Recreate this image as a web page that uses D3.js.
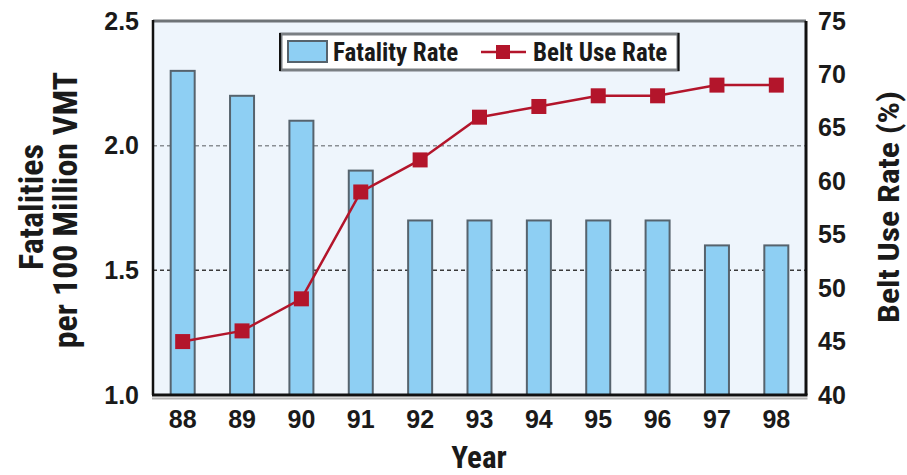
<!DOCTYPE html>
<html>
<head>
<meta charset="utf-8">
<script src="https://cdn.jsdelivr.net/npm/d3@7"></script>
<style>
  html, body { margin: 0; padding: 0; background: #ffffff; }
  svg { display: block; }
  text { font-family: "Liberation Sans Narrow", "Roboto Condensed", "Liberation Sans", Arial, sans-serif; font-weight: bold; fill: #1a1a1a; }
  .num { font-family: "Liberation Sans", Arial, sans-serif; }
</style>
</head>
<body>
<svg id="chart" width="907" height="475"></svg>
<script>
// Fatality rate (per 100 million VMT) and safety belt use rate (%), 1988-1998
const years = ["88", "89", "90", "91", "92", "93", "94", "95", "96", "97", "98"];
const fatalityRate = [2.3, 2.2, 2.1, 1.9, 1.7, 1.7, 1.7, 1.7, 1.7, 1.6, 1.6];
const beltUseRate = [45, 46, 49, 59, 62, 66, 67, 68, 68, 69, 69];
const leftTicks = [1.0, 1.5, 2.0, 2.5];
const rightTicks = [40, 45, 50, 55, 60, 65, 70, 75];
const gridValues = [1.5, 2.0];

const svg = d3.select("#chart");
const plot = { left: 153, right: 806, top: 21, bottom: 395 };

const xc = d3.scaleBand().domain(years).range([plot.left, plot.right]);
const yL = d3.scaleLinear().domain([1.0, 2.5]).range([plot.bottom, plot.top]);
const yR = d3.scaleLinear().domain([40, 75]).range([plot.bottom, plot.top]);
const cx = d => xc(d) + xc.bandwidth() / 2;

// plot background
svg.append("rect")
  .attr("x", plot.left).attr("y", plot.top)
  .attr("width", plot.right - plot.left).attr("height", plot.bottom - plot.top)
  .attr("fill", "#eef5fc");

// dashed reference lines
svg.append("g").selectAll("line").data(gridValues).join("line")
  .attr("x1", plot.left).attr("x2", plot.right)
  .attr("y1", d => yL(d)).attr("y2", d => yL(d))
  .attr("stroke", d => d === 2.0 ? "#8a8f94" : "#3a3a3a")
  .attr("stroke-width", 1.5)
  .attr("stroke-dasharray", "4,3");

// fatality rate bars
const barW = 24;
svg.append("g").selectAll("rect").data(years).join("rect")
  .attr("x", d => cx(d) - barW / 2)
  .attr("y", (d, i) => yL(fatalityRate[i]))
  .attr("width", barW)
  .attr("height", (d, i) => plot.bottom - yL(fatalityRate[i]))
  .attr("fill", "#8ecff3")
  .attr("stroke", "#56636d")
  .attr("stroke-width", 2);

// plot frame
svg.append("line").attr("x1", plot.left).attr("x2", plot.right).attr("y1", plot.top).attr("y2", plot.top)
  .attr("stroke", "#6e7377").attr("stroke-width", 3);
svg.append("line").attr("x1", plot.right).attr("x2", plot.right).attr("y1", plot.top).attr("y2", plot.bottom)
  .attr("stroke", "#111").attr("stroke-width", 3);
svg.append("line").attr("x1", plot.left).attr("x2", plot.left).attr("y1", plot.top - 1).attr("y2", plot.bottom)
  .attr("stroke", "#111").attr("stroke-width", 2.5);
svg.append("line").attr("x1", plot.left - 1).attr("x2", plot.right + 1.5).attr("y1", plot.bottom + 3.5).attr("y2", plot.bottom + 3.5)
  .attr("stroke", "#b5b5b5").attr("stroke-width", 2);
svg.append("line").attr("x1", plot.left - 1).attr("x2", plot.right + 1.5).attr("y1", plot.bottom).attr("y2", plot.bottom)
  .attr("stroke", "#111").attr("stroke-width", 3);

// belt use line and markers
const line = d3.line()
  .x((d, i) => cx(years[i]))
  .y(d => yR(d));
svg.append("path").datum(beltUseRate)
  .attr("d", line)
  .attr("fill", "none")
  .attr("stroke", "#b3152b")
  .attr("stroke-width", 2.5);
const mk = 15;
svg.append("g").selectAll("rect").data(beltUseRate).join("rect")
  .attr("x", (d, i) => cx(years[i]) - mk / 2)
  .attr("y", d => yR(d) - mk / 2)
  .attr("width", mk).attr("height", mk)
  .attr("fill", "#b3152b");

// axes
function styleTicks(g) {
  g.select(".domain").remove();
  g.selectAll("text")
    .attr("class", "num")
    .attr("font-size", 25)
    .attr("fill", "#222");
}
const gL = svg.append("g").attr("transform", `translate(${plot.left},0)`)
  .call(d3.axisLeft(yL).tickValues(leftTicks).tickFormat(d3.format(".1f")).tickSize(0).tickPadding(14));
styleTicks(gL);

const gR = svg.append("g").attr("transform", `translate(${plot.right},0)`)
  .call(d3.axisRight(yR).tickValues(rightTicks).tickSize(0).tickPadding(12));
styleTicks(gR);

const gB = svg.append("g").attr("transform", `translate(0,${plot.bottom})`)
  .call(d3.axisBottom(xc).tickSize(0).tickPadding(15));
styleTicks(gB);

// axis titles
svg.append("text").attr("x", 479).attr("y", 468).attr("text-anchor", "middle").attr("font-size", 31).text("Year");
svg.append("text").attr("transform", "translate(43,207) rotate(-90)").attr("text-anchor", "middle").attr("font-size", 34).text("Fatalities");
svg.append("text").attr("transform", "translate(77,210) rotate(-90)").attr("text-anchor", "middle").attr("font-size", 34).text("per 100 Million VMT");
svg.append("text").attr("transform", "translate(899,207) rotate(-90)").attr("text-anchor", "middle")
  .attr("font-size", 29).attr("textLength", 232).attr("lengthAdjust", "spacingAndGlyphs").text("Belt Use Rate (%)");

// legend
const lg = svg.append("g");
lg.append("rect").attr("x", 281).attr("y", 34).attr("width", 397).attr("height", 36)
  .attr("fill", "#ffffff").attr("stroke", "#7a7f83").attr("stroke-width", 3);
lg.append("line").attr("x1", 280).attr("x2", 280).attr("y1", 33).attr("y2", 71).attr("stroke", "#111").attr("stroke-width", 2);
lg.append("line").attr("x1", 678.5).attr("x2", 678.5).attr("y1", 33).attr("y2", 71).attr("stroke", "#111").attr("stroke-width", 2);
lg.append("rect").attr("x", 288).attr("y", 41).attr("width", 39).attr("height", 21)
  .attr("fill", "#8ecff3").attr("stroke", "#56636d").attr("stroke-width", 2);
lg.append("text").attr("x", 333).attr("y", 61).attr("font-size", 25).text("Fatality Rate");
lg.append("line").attr("x1", 481).attr("x2", 526).attr("y1", 52).attr("y2", 52)
  .attr("stroke", "#b3152b").attr("stroke-width", 2.5);
lg.append("rect").attr("x", 496).attr("y", 45).attr("width", 14).attr("height", 14).attr("fill", "#b3152b");
lg.append("text").attr("x", 533).attr("y", 61).attr("font-size", 25).text("Belt Use Rate");
</script>
</body>
</html>
